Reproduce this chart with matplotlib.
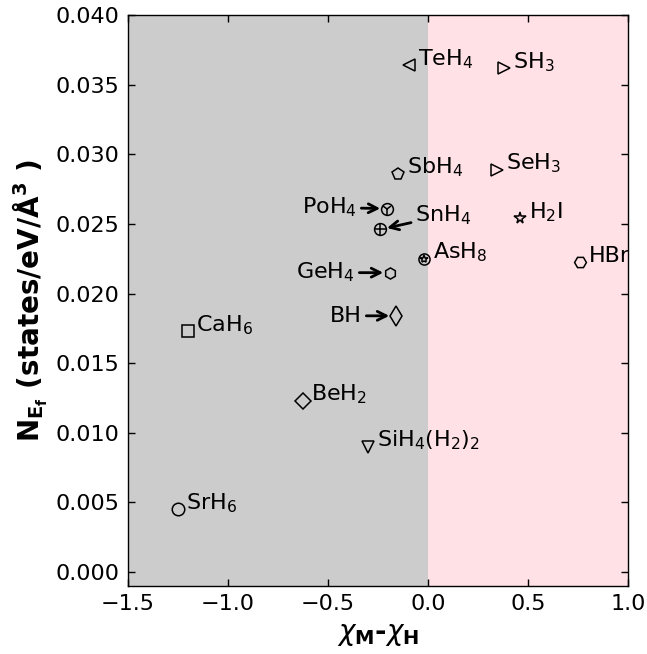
import matplotlib
matplotlib.use("Agg")
import matplotlib.pyplot as plt

# ---- data ----
names = ['SrH$_6$', 'CaH$_6$', 'BeH$_2$', 'SiH$_4$(H$_2$)$_2$', 'BH', 'GeH$_4$',
         'AsH$_8$', 'SnH$_4$', 'PoH$_4$', 'SbH$_4$', 'TeH$_4$', 'SH$_3$', 'SeH$_3$',
         'H$_2$I', 'HBr']
chi = [-1.25, -1.20, -0.625, -0.30, -0.16, -0.19, -0.02, -0.24, -0.205, -0.15,
       -0.095, 0.38, 0.345, 0.46, 0.76]
nef = [0.0045, 0.0173, 0.0123, 0.0090, 0.0184, 0.0215, 0.0225, 0.0246, 0.0261,
       0.0286, 0.0364, 0.0362, 0.0289, 0.0254, 0.0223]
xticks = [-1.5, -1.0, -0.5, 0.0, 0.5, 1.0]
yticks = [0.000, 0.005, 0.010, 0.015, 0.020, 0.025, 0.030, 0.035, 0.040]

# marker style per compound (list of overlaid markers, size)
styles = {
    'SrH$_6$': (['o'], 9),
    'CaH$_6$': (['s'], 9),
    'BeH$_2$': (['D'], 8.5),
    'SiH$_4$(H$_2$)$_2$': (['v'], 9),
    'BH': (['d'], 10),
    'GeH$_4$': (['h'], 8),
    'AsH$_8$': (['o', '*'], 8),
    'SnH$_4$': (['o', '+'], 8.5),
    'PoH$_4$': (['o', '1'], 8.5),
    'SbH$_4$': (['p'], 8.5),
    'TeH$_4$': (['<'], 8.5),
    'SH$_3$': (['>'], 8),
    'SeH$_3$': (['>'], 8.5),
    'H$_2$I': (['*'], 8.5),
    'HBr': (['H'], 8.5),
}

# arrow-labelled compounds: offset of text (px) and alignment
arrow_labels = {
    'PoH$_4$': ((-30, 1), 'right'),
    'SnH$_4$': ((35, 14), 'left'),
    'GeH$_4$': ((-35, 0), 'right'),
    'BH': ((-34, 0), 'right'),
}

fig = plt.figure(figsize=(6.47, 6.54), dpi=100)
ax = fig.add_axes([0.198, 0.104, 0.773, 0.873])
ax.axvspan(-1.5, 0.0, color='#cccccc', lw=0, zorder=0)
ax.axvspan(0.0, 1.0, color='#ffe1e6', lw=0, zorder=0)

px = 0.72  # points per pixel
for n, x, y in zip(names, chi, nef):
    mks, ms = styles[n]
    for m in mks:
        s = ms
        if m == '*' and len(mks) > 1:
            s = ms * 0.75
        if m in ('+', '1') and len(mks) > 1:
            s = ms * 0.95
        ax.plot([x], [y], linestyle='none', marker=m, markersize=s,
                markerfacecolor='none', markeredgecolor='black',
                markeredgewidth=1.1, zorder=3)
    if n in arrow_labels:
        (dx, dy), ha = arrow_labels[n]
        ax.annotate(n, xy=(x, y), xytext=(dx * px, dy * px), textcoords='offset points',
                    ha=ha, va='center', fontsize=16,
                    arrowprops=dict(arrowstyle='->', lw=2, color='black',
                                    shrinkA=1, shrinkB=5))
    else:
        ax.annotate(n, xy=(x, y), xytext=(6, 0), textcoords='offset points',
                    ha='left', va='baseline', fontsize=16)

ax.set_xlim(-1.5, 1.0)
ax.set_ylim(-0.001, 0.040)
ax.set_xticks(xticks)
ax.set_yticks(yticks)
ax.set_xticklabels([f'{v:.1f}'.replace('-', '\u2212') for v in xticks])
ax.set_yticklabels([f'{v:.3f}' for v in yticks])
ax.tick_params(direction='in', top=True, right=True, length=5, width=1,
               labelsize=16, pad=6)
for sp in ax.spines.values():
    sp.set_linewidth(1.0)

ax.set_xlabel(r'$\chi_\mathbf{M}\mathbf{\u2010}\chi_\mathbf{H}$'.replace('\\u2010', '\u2010'),
              fontsize=20, fontweight='normal', labelpad=4)
ax.set_ylabel(r'$\mathbf{N_{E_f}}$ (states/eV/$\mathbf{\AA^3}$ )', fontsize=20,
              fontweight='bold', labelpad=4)

fig.savefig('out.png', dpi=100)
